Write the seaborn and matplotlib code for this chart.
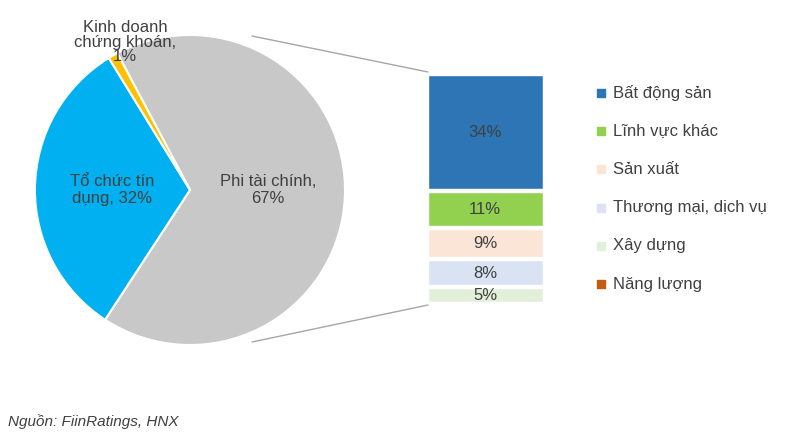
import matplotlib
matplotlib.use('Agg')
import matplotlib.pyplot as plt
import seaborn as sns

pie_labels = ['Phi tài chính', 'Tổ chức tín dụng', 'Kinh doanh chứng khoán']
pie_values = [67, 32, 1]
pie_colors = ['#C8C8C8', '#00B0F0', '#FFC000']

bar_labels = ['Bất động sản', 'Lĩnh vực khác', 'Sản xuất', 'Thương mại, dịch vụ', 'Xây dựng', 'Năng lượng']
bar_values = [34, 11, 9, 8, 5, 0]
bar_colors = ['#2E75B6', '#92D050', '#FBE5D6', '#DAE3F3', '#E2F0D9', '#C55A11']

sns.set_theme(style='white')
plt.rcParams['font.family'] = ['Liberation Sans', 'DejaVu Sans']

fig = plt.figure(figsize=(8, 4.42), dpi=100)
ax = fig.add_axes([0, 0, 1, 1])
ax.set_xlim(0, 800)
ax.set_ylim(442, 0)
ax.axis('off')

# pie in pixel coords (y flipped -> use counterclock=True to look clockwise)
wedges, _ = ax.pie(pie_values, colors=pie_colors, startangle=-118, counterclock=True,
                   center=(190, 190), radius=155, explode=[0, 0.04, 0],
                   wedgeprops=dict(edgecolor='white', linewidth=1.5), frame=True)
ax.set_xlim(0, 800)
ax.set_ylim(442, 0)
ax.set_aspect('equal')
ax.axis('off')

ax.text(268, 190, 'Phi tài chính,\n67%', ha='center', va='center', fontsize=12, color='#404040')
ax.text(112, 190, 'Tổ chức tín\ndụng, 32%', ha='center', va='center', fontsize=12, color='#404040')
ax.text(125, 42, 'Kinh doanh\nchứng khoán,\n1%', ha='center', va='center', fontsize=12,
        color='#404040', linespacing=0.95)

# stacked bar for the non-financial breakdown
scale = 230 / sum(bar_values)
top = 75
for lab, v, c in zip(bar_labels, bar_values, bar_colors):
    h = v * scale
    if h > 0:
        ax.bar(485, h - 3, width=115, bottom=top, color=c, align='center')
        tc = '#404040'
        ax.text(485, top + h / 2 - 1, f'{v}%', ha='center', va='center', fontsize=12, color=tc)
    top += h

ax.plot([252, 428], [36, 72], color='#A6A6A6', lw=1)
ax.plot([252, 428], [342, 305], color='#A6A6A6', lw=1)

for i, (lab, c) in enumerate(zip(bar_labels, bar_colors)):
    y = 93 + i * 38.2
    ax.scatter(601, y, marker='s', s=40, color=c)
    ax.text(613, y, lab, va='center', fontsize=12, color='#404040')

ax.text(8, 422, 'Nguồn: FiinRatings, HNX', fontsize=11, style='italic', va='center', color='#404040')

fig.savefig('out.png', dpi=100)
